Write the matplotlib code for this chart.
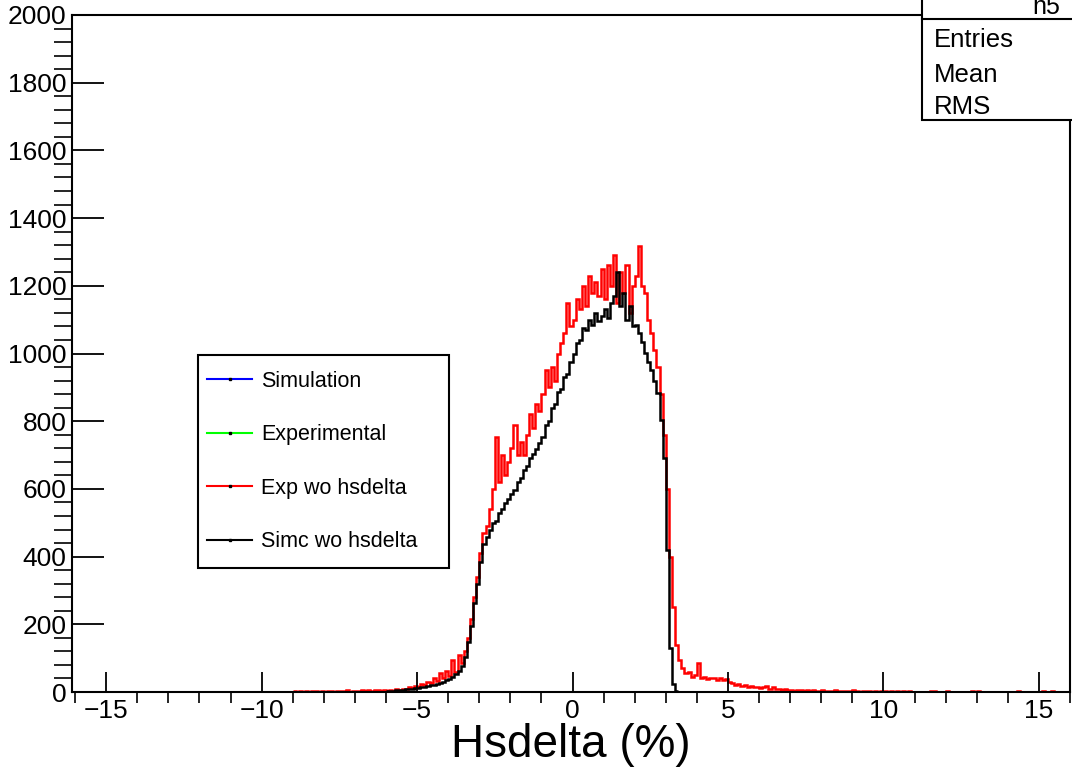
import numpy as np
import matplotlib
matplotlib.use("Agg")
import matplotlib.pyplot as plt
from matplotlib.lines import Line2D
from matplotlib.patches import Rectangle
from matplotlib.ticker import MultipleLocator

plt.rcParams['font.family'] = ['Liberation Sans', 'DejaVu Sans']

# histogram binning (0.1 % wide bins)
bin_width = 0.1
red_start = -9.0
black_start = -6.0

# Exp wo hsdelta, bins from -9.0 upward
red_counts = [
    3, 0, 2, 0, 3, 0, 2, 4, 0, 2,                                   # -9.0
    0, 3, 2, 0, 4, 2, 3, 5, 0, 3,                                   # -8.0
    4, 2, 5, 3, 6, 4, 5, 7, 4, 5,                                   # -7.0
    3, 6, 4, 8, 7, 10, 9, 14, 12, 18,                               # -6.0
    16, 24, 20, 30, 26, 40, 33, 55, 42, 62,                         # -5.0
    48, 95, 60, 110, 85, 120, 160, 215, 280, 340,                   # -4.0
    410, 470, 490, 540, 600, 752, 620, 700, 640, 680,               # -3.0
    720, 790, 700, 740, 700, 760, 820, 780, 850, 830,               # -2.0
    880, 950, 900, 960, 920, 1000, 1030, 1060, 1150, 1080,          # -1.0
    1100, 1160, 1130, 1200, 1140, 1230, 1180, 1210, 1170, 1250,     # 0.0
    1160, 1260, 1200, 1290, 1150, 1240, 1180, 1260, 1120, 1200,     # 1.0
    1230, 1318, 1200, 1180, 1100, 1060, 1010, 960, 880, 760,        # 2.0
    600, 400, 250, 140, 95, 70, 55, 60, 45, 50,                     # 3.0
    85, 40, 45, 38, 42, 40, 36, 40, 35, 38,                         # 4.0
    30, 28, 22, 24, 18, 20, 15, 18, 14, 16,                         # 5.0
    12, 15, 18, 10, 14, 8, 10, 6, 8, 5,                             # 6.0
    7, 4, 6, 5, 3, 6, 4, 5, 3, 4,                                   # 7.0
    6, 2, 4, 3, 5, 2, 3, 4, 2, 3,                                   # 8.0
    6, 2, 0, 3, 4, 2, 0, 3, 0, 2,                                   # 9.0
    4, 0, 3, 0, 2, 0, 3, 0, 2, 0,                                   # 10.0
    0, 0, 0, 0, 0, 3, 2, 0, 0, 0,                                   # 11.0
    3, 0, 0, 0, 0, 0, 0, 0, 2, 0,                                   # 12.0
    2, 0, 0, 0, 0, 0, 0, 0, 0, 0,                                   # 13.0
    0, 0, 0, 3, 0, 0, 0, 0, 0, 0,                                   # 14.0
    0, 3, 0, 0, 3, 0,                                               # 15.0
]

# Simc wo hsdelta, bins from -6.0 upward
black_counts = [
    2, 3, 4, 5, 5, 7, 8, 9, 10, 12,                                 # -6.0
    13, 15, 16, 18, 20, 22, 25, 27, 31, 34,                         # -5.0
    38, 44, 52, 63, 78, 102, 148, 196, 262, 318,                    # -4.0
    385, 436, 458, 478, 500, 505, 530, 541, 558, 570,               # -3.0
    586, 598, 620, 632, 655, 668, 690, 702, 718, 735,               # -2.0
    752, 790, 800, 840, 850, 885, 895, 930, 940, 975,               # -1.0
    998, 1030, 1040, 1075, 1070, 1100, 1085, 1120, 1095, 1110,      # 0.0
    1130, 1105, 1150, 1170, 1240, 1140, 1180, 1100, 1140, 1080,     # 1.0
    1085, 1060, 1035, 1002, 975, 950, 918, 882, 805, 690,           # 2.0
    420, 130, 25, 3,                                                # 3.0
]

legend_labels = ["Simulation", "Experimental", "Exp wo hsdelta", "Simc wo hsdelta"]
legend_colors = ["#0000ff", "#00ff00", "#ff0000", "#000000"]
stat_names = ["Entries", "Mean", "RMS"]
hist_name = "h5"


def edges(start, n):
    return np.round(start + bin_width * np.arange(n + 1), 2)


fig = plt.figure(figsize=(10.72, 7.70), dpi=100)
W, H = 1072.0, 770.0
ax = fig.add_axes([72 / W, 1 - 692 / H, (1070 - 72) / W, (692 - 15) / H])

ax.stairs(red_counts, edges(red_start, len(red_counts)), color="#ff0000", lw=1.8, baseline=None)
ax.stairs(black_counts, edges(black_start, len(black_counts)), color="black", lw=1.8, baseline=None)

ax.set_xlim(-16.1, 16.0)
ax.set_ylim(0, 2000)

ax.xaxis.set_major_locator(MultipleLocator(5))
ax.xaxis.set_minor_locator(MultipleLocator(1))
ax.yaxis.set_major_locator(MultipleLocator(200))
ax.yaxis.set_minor_locator(MultipleLocator(40))
ax.tick_params(direction="in", width=1.3, labelsize=19, top=False, right=False)
ax.tick_params(axis="x", which="major", length=14.5, pad=5)
ax.tick_params(axis="x", which="minor", length=8, width=1.2)
ax.tick_params(axis="y", which="major", length=23, pad=4)
ax.tick_params(axis="y", which="minor", length=13, width=1.2)
for sp in ax.spines.values():
    sp.set_linewidth(1.5)

ax.set_xlabel("Hsdelta (%)", fontsize=33, va="baseline")
ax.xaxis.set_label_coords(0.5, (692 - 757) / 677)

# legend: frame drawn separately so its size matches the ROOT TLegend box
leg_box = (198 / W, 1 - 568 / H, (449 - 198) / W, (568 - 355) / H)
ax.add_patch(Rectangle(leg_box[:2], leg_box[2], leg_box[3], transform=fig.transFigure,
                       facecolor="white", edgecolor="black", lw=1.5, zorder=4, clip_on=False))
handles = [Line2D([0], [0], color=c, lw=1.5, marker="s", markersize=1.5,
                  markerfacecolor="black", markeredgecolor="black")
           for c in legend_colors]
leg = ax.legend(handles, legend_labels, loc="center left", bbox_to_anchor=leg_box,
                bbox_transform=fig.transFigure, borderaxespad=0, fontsize=15.5,
                frameon=False, handlelength=2.1, handletextpad=0.4,
                labelspacing=1.51, borderpad=0.42, numpoints=1)
leg.set_zorder(5)

# stats box (ROOT style) in the top right corner
box = Rectangle((922 / W, 1 - 120 / H), (1080 - 922) / W, 130 / H, transform=fig.transFigure,
                facecolor="white", edgecolor="black", lw=1.5, zorder=10, clip_on=False)
fig.add_artist(box)
fig.add_artist(Line2D([922 / W, 1.0], [1 - 19 / H, 1 - 19 / H], transform=fig.transFigure,
                      color="black", lw=1.5, zorder=11))
fig.text(1060 / W, 1 - 14 / H, hist_name, fontsize=18, ha="right", va="baseline", zorder=12)
for name, yb in zip(stat_names, [47, 82, 114]):
    fig.text(934 / W, 1 - yb / H, name, fontsize=18.5, ha="left", va="baseline", zorder=12)

fig.savefig("out.png", dpi=100)
